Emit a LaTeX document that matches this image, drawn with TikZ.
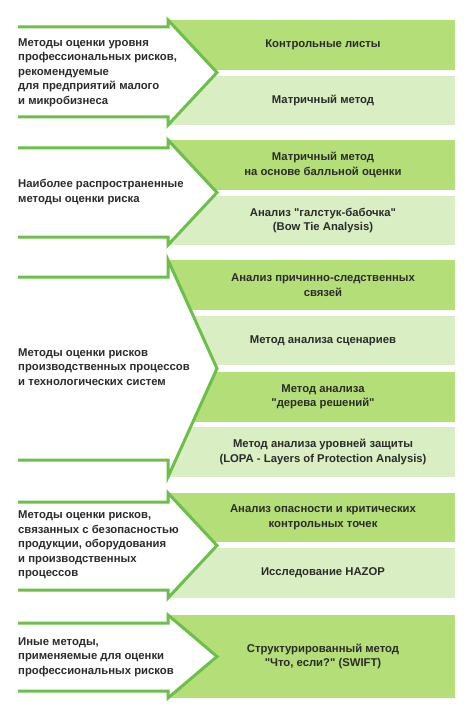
\documentclass[tikz,border=0pt]{standalone}
\usepackage{fontspec}
\setmainfont{Liberation Sans}[Ligatures=TeXOff]
\begin{document}
\definecolor{dk}{HTML}{B4DE77}
\definecolor{lt}{HTML}{D9EEC2}
\definecolor{ln}{HTML}{6CBF4A}
\definecolor{tx}{HTML}{2B2B2B}
\tikzset{
  boxdk/.style={rectangle, fill=dk, inner sep=0pt, minimum width=287pt, anchor=north west},
  boxlt/.style={rectangle, fill=lt, inner sep=0pt, minimum width=287pt, anchor=north west},
  arr/.style={draw=ln, line width=3pt, miter limit=10},
  lefttxt/.style={anchor=west, align=left, inner sep=0pt, text=tx, font=\fontsize{11.3}{14.5}\selectfont\bfseries},
  boxtxt/.style={align=center, inner sep=0pt, text=tx, font=\fontsize{11.3}{14.5}\selectfont\bfseries}
}
\begin{tikzpicture}[x=1pt,y=-1pt]
\useasboundingbox (0,0) rectangle (474,711);
\fill[white] (0,0) rectangle (474,711);
% ---------- group 1
\node[boxdk, minimum height=50pt] (b11) at (168,20) {};
\node[boxlt, minimum height=49pt] (b12) at (168,76) {};
\fill[white] (168,20) -- (217,72.5) -- (168,125) -- cycle;
\coordinate (a1s) at (18,27); \coordinate (a1e) at (18,117);
\coordinate (a1tip) at (217,72.5);
\draw[arr] (a1s) -- (168,27) -- (168,20) -- (a1tip) -- (168,125) -- (168,117) -- (a1e);
\node[lefttxt] (l1) at (18,72.5) {Методы оценки уровня\\профессиональных рисков,\\рекомендуемые\\для предприятий малого\\и микробизнеса};
\node[boxtxt] (t11) at (323,45) {Контрольные листы};
\node[boxtxt] (t12) at (323,100.5) {Матричный метод};
% ---------- group 2
\node[boxdk, minimum height=50pt] (b21) at (168,140) {};
\node[boxlt, minimum height=49pt] (b22) at (168,196) {};
\fill[white] (168,140) -- (217,192.5) -- (168,245) -- cycle;
\coordinate (a2s) at (18,148); \coordinate (a2e) at (18,237);
\coordinate (a2tip) at (217,192.5);
\draw[arr] (a2s) -- (168,148) -- (168,140) -- (a2tip) -- (168,245) -- (168,237) -- (a2e);
\node[lefttxt] (l2) at (18,192) {Наиболее распространенные\\методы оценки риска};
\node[boxtxt] (t21) at (323,165) {Матричный метод\\на основе балльной оценки};
\node[boxtxt] (t22) at (323,220.5) {Анализ "галстук-бабочка"\\(Bow Tie Analysis)};
% ---------- group 3
\node[boxdk, minimum height=50pt] (b31) at (168,260) {};
\node[boxlt, minimum height=49pt] (b32) at (168,316) {};
\node[boxdk, minimum height=50pt] (b33) at (168,372) {};
\node[boxlt, minimum height=50pt] (b34) at (168,427) {};
\fill[white] (168,260) -- (217,368.5) -- (168,477) -- cycle;
\coordinate (a3s) at (18,277); \coordinate (a3e) at (18,460);
\coordinate (a3tip) at (217,368.5);
\draw[arr] (a3s) -- (168,277) -- (168,260) -- (a3tip) -- (168,477) -- (168,460) -- (a3e);
\node[lefttxt] (l3) at (18,367) {Методы оценки рисков\\производственных процессов\\и технологических систем};
\node[boxtxt] (t31) at (323,285) {Анализ причинно-следственных\\связей};
\node[boxtxt] (t32) at (323,340.5) {Метод анализа сценариев};
\node[boxtxt] (t33) at (323,397) {Метод анализа\\"дерева решений"};
\node[boxtxt] (t34) at (323,452) {Метод анализа уровней защиты\\(LOPA - Layers of Protection Analysis)};
% ---------- group 4
\node[boxdk, minimum height=49pt] (b41) at (168,493) {};
\node[boxlt, minimum height=50pt] (b42) at (168,548) {};
\fill[white] (168,493) -- (217,545.5) -- (168,598) -- cycle;
\coordinate (a4s) at (18,502); \coordinate (a4e) at (18,590);
\coordinate (a4tip) at (217,545.5);
\draw[arr] (a4s) -- (168,502) -- (168,493) -- (a4tip) -- (168,598) -- (168,590) -- (a4e);
\node[lefttxt] (l4) at (18,545) {Методы оценки рисков,\\связанных с безопасностью\\продукции, оборудования\\и производственных\\процессов};
\node[boxtxt] (t41) at (323,517.5) {Анализ опасности и критических\\контрольных точек};
\node[boxtxt] (t42) at (323,573) {Исследование HAZOP};
% ---------- group 5
\node[boxdk, minimum height=83pt] (b51) at (168,615) {};
\fill[white] (168,615) -- (217,656.5) -- (168,698) -- cycle;
\coordinate (a5s) at (18,623); \coordinate (a5e) at (18,691);
\coordinate (a5tip) at (217,656.5);
\draw[arr] (a5s) -- (168,623) -- (168,615) -- (a5tip) -- (168,698) -- (168,691) -- (a5e);
\node[lefttxt] (l5) at (18,657) {Иные методы,\\применяемые для оценки\\профессиональных рисков};
\node[boxtxt] (t51) at (323,656.5) {Структурированный метод\\"Что, если?" (SWIFT)};
\end{tikzpicture}
\end{document}
